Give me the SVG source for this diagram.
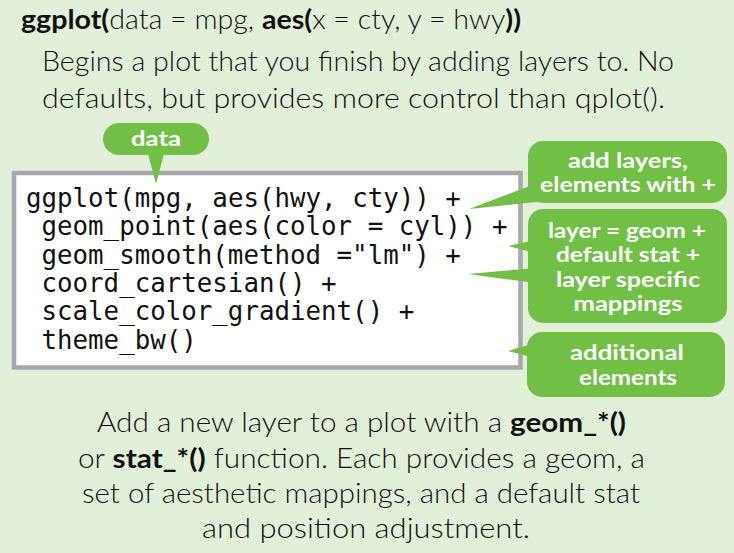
<svg xmlns="http://www.w3.org/2000/svg" width="734" height="553" viewBox="0 0 734 553">
<style>
.body{font-family:Lato,"Source Sans Pro","Open Sans","Liberation Sans",sans-serif;font-weight:300;fill:#111;font-size:27px}
.b{font-weight:700}
.code{font-family:"DejaVu Sans Mono","Liberation Mono",monospace;font-size:25.8px;fill:#111}
.lbl{font-family:Lato,"Open Sans","Liberation Sans",sans-serif;font-weight:700;fill:#fff;font-size:20px;text-anchor:middle}
.green{fill:#71bf44}
</style>
<rect x="0" y="0" width="734" height="553" fill="#e2f0d9"/>
<g id="header">
<text class="body" x="21" y="29" font-size="26" textLength="500" lengthAdjust="spacingAndGlyphs"><tspan class="b">ggplot(</tspan>data = mpg, <tspan class="b">aes(</tspan>x = cty, y = hwy<tspan class="b">))</tspan></text>
<text class="body" x="42" y="71" textLength="632" lengthAdjust="spacingAndGlyphs">Begins a plot that you finish by adding layers to. No</text>
<text class="body" x="42" y="108" textLength="623" lengthAdjust="spacingAndGlyphs">defaults, but provides more control than qplot().</text>
</g>
<g id="code-box">
<rect x="14" y="173" width="506.5" height="194.5" fill="#fff" stroke="#a6a8a9" stroke-width="4.5"/>
<text class="code" x="26" y="207">ggplot(mpg, aes(hwy, cty)) +</text>
<text class="code" x="41.5" y="235.3">geom_point(aes(color = cyl)) +</text>
<text class="code" x="41.5" y="263.6">geom_smooth(method ="lm") +</text>
<text class="code" x="41.5" y="291.9">coord_cartesian() +</text>
<text class="code" x="41.5" y="320.2">scale_color_gradient() +</text>
<text class="code" x="41.5" y="348.5">theme_bw()</text>
</g>
<g id="connectors">
<polygon class="green" points="147,150 165,150 156,184"/>
<polygon class="green" points="535,184 469,209 545,201"/>
<polygon class="green" points="535,240 508,246 535,253"/>
<polygon class="green" points="535,268 468,274 535,283"/>
<polygon class="green" points="535,343 508,351 535,358"/>
</g>
<g id="callout-data">
<rect class="green" x="103" y="123" width="106" height="32" rx="16"/>
<text class="lbl" x="156" y="146" font-size="22" textLength="50" lengthAdjust="spacingAndGlyphs">data</text>
</g>
<g id="callout-layers">
<rect class="green" x="528" y="141" width="199" height="62" rx="15"/>
<text class="lbl" x="628" y="168" textLength="120" lengthAdjust="spacingAndGlyphs">add layers,</text>
<text class="lbl" x="628" y="192" textLength="176" lengthAdjust="spacingAndGlyphs">elements with +</text>
</g>
<g id="callout-geom">
<rect class="green" x="528" y="209" width="199" height="114" rx="15"/>
<text class="lbl" x="627" y="238" textLength="158" lengthAdjust="spacingAndGlyphs">layer = geom +</text>
<text class="lbl" x="628" y="262" textLength="144" lengthAdjust="spacingAndGlyphs">default stat +</text>
<text class="lbl" x="628" y="287" textLength="144" lengthAdjust="spacingAndGlyphs">layer specific</text>
<text class="lbl" x="628" y="311" textLength="109" lengthAdjust="spacingAndGlyphs">mappings</text>
</g>
<g id="callout-additional">
<rect class="green" x="527" y="332" width="198" height="65" rx="15"/>
<text class="lbl" x="627" y="360" textLength="114" lengthAdjust="spacingAndGlyphs">additional</text>
<text class="lbl" x="628" y="385" textLength="98" lengthAdjust="spacingAndGlyphs">elements</text>
</g>
<g id="footer">
<text class="body" x="97" y="432" textLength="529" lengthAdjust="spacingAndGlyphs">Add a new layer to a plot with a <tspan class="b">geom_*()</tspan></text>
<text class="body" x="78" y="468" textLength="567" lengthAdjust="spacingAndGlyphs">or <tspan class="b">stat_*()</tspan> function. Each provides a geom, a</text>
<text class="body" x="82" y="503" textLength="558" lengthAdjust="spacingAndGlyphs">set of aesthetic mappings, and a default stat</text>
<text class="body" x="202" y="538" textLength="328" lengthAdjust="spacingAndGlyphs">and position adjustment.</text>
</g>
</svg>
